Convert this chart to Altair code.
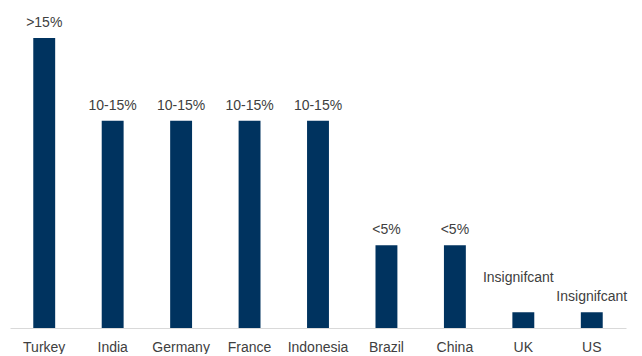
import altair as alt
import pandas as pd

countries = ["Turkey", "India", "Germany", "France", "Indonesia", "Brazil", "China", "UK", "US"]
values = [17.5, 12.5, 12.5, 12.5, 12.5, 5.0, 5.0, 0.95, 0.95]
labels = [">15%", "10-15%", "10-15%", "10-15%", "10-15%", "<5%", "<5%", "Insignifcant", "Insignifcant"]

df = pd.DataFrame({"country": countries, "value": values, "label": labels})

FONT = "Liberation Sans"
TXT = "#404040"
FS = 14

x = alt.X("country:N", sort=countries, title=None,
          scale=alt.Scale(paddingInner=0.68, paddingOuter=0.34),
          axis=alt.Axis(labelAngle=0, ticks=False, domainColor="#d9d9d9", domainWidth=1,
                        labelFont=FONT, labelFontSize=FS, labelColor=TXT, labelPadding=12))
y = alt.Y("value:Q", title=None, scale=alt.Scale(domain=[0, 19.31], nice=False), axis=None)

base = alt.Chart(df)
bars = base.mark_bar(color="#00335F").encode(x=x, y=y)
txt = base.mark_text(font=FONT, fontSize=FS, color=TXT, baseline="bottom", dy=-8).encode(
    x=alt.X("country:N", sort=countries), y="value:Q", text="label:N")
txt_main = txt.transform_filter(alt.datum.country != "UK")
txt_uk = base.mark_text(font=FONT, fontSize=FS, color=TXT, baseline="bottom", dy=-27, dx=-5).encode(
    x=alt.X("country:N", sort=countries), y="value:Q", text="label:N"
).transform_filter(alt.datum.country == "UK")

chart = alt.layer(bars, txt_main, txt_uk).properties(
    width=616, height=320, padding={"left": 2, "top": 0, "right": 0, "bottom": 0}
).configure_view(stroke=None)

chart.save("out.html", embed_options={"renderer": "svg", "actions": False})
